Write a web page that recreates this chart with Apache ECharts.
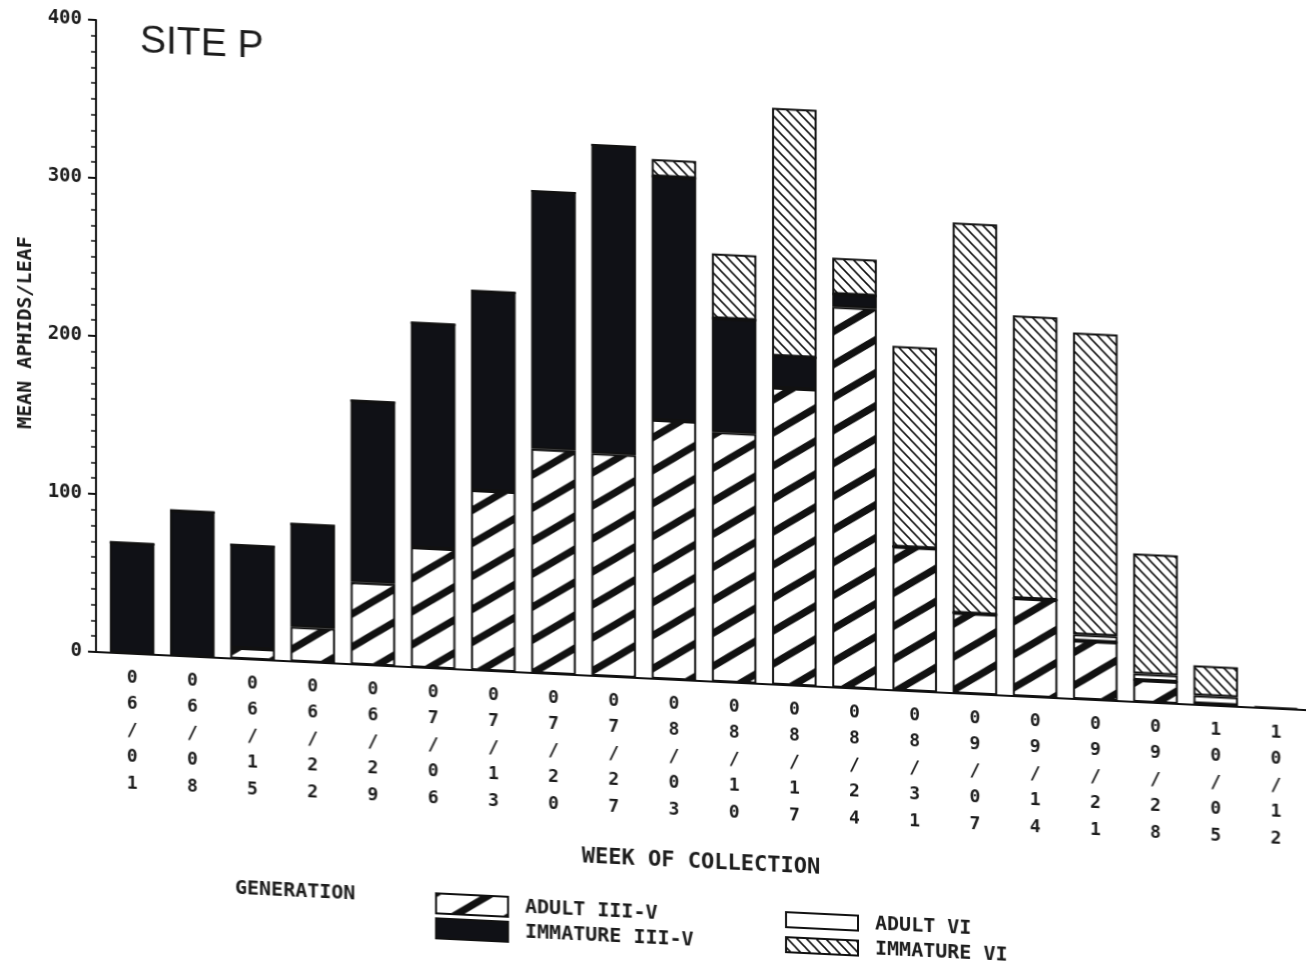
<!DOCTYPE html>
<html>
<head>
<meta charset="utf-8">
<title>Site P – mean aphids per leaf</title>
<script src="https://cdn.jsdelivr.net/npm/echarts@6/dist/echarts.min.js"></script>
<style>
  html, body { margin: 0; padding: 0; background: #fff; overflow: hidden; }
  /* the plotted sheet sits slightly sheared on the page */
  #chart { width: 1306px; height: 966px; transform: skewY(2.75deg); transform-origin: 96px 652px; }
</style>
</head>
<body>
<div id="chart"></div>
<script>
// Week of collection (month/day)
const weeks = ['06/01', '06/08', '06/15', '06/22', '06/29', '07/06', '07/13', '07/20', '07/27', '08/03',
               '08/10', '08/17', '08/24', '08/31', '09/07', '09/14', '09/21', '09/28', '10/05', '10/12'];

// Mean aphids per leaf, by generation (stacked bottom to top)
const adultIIItoV    = [0, 0, 7, 22, 52, 76, 114, 142, 141, 164, 158, 188, 241, 91, 51, 62, 37, 14, 1, 0];
const immatureIIItoV = [70, 92, 65, 65, 115, 142, 126, 163, 195, 154, 72, 20, 8, 0, 0, 0, 0, 0, 0, 0];
const adultVI        = [0, 0, 0, 0, 0, 0, 0, 0, 0, 0, 0, 0, 0, 0, 0, 0, 4, 4, 5, 0];
const immatureVI     = [0, 0, 0, 0, 0, 0, 0, 0, 0, 11, 41, 157, 23, 127, 247, 179, 191, 76, 19, 1];

// Value axis range
const yMin = 0, yMax = 400, yStep = 100;

const INK = '#111';
const TEXT = '#1c1c1c';
const MONO = "'DejaVu Sans Mono', 'Liberation Mono', monospace";

// Repeating hatch tile: 'up' draws / lines, 'down' draws \ lines
function hatch(w, h, lw, dir) {
  const c = document.createElement('canvas');
  c.width = w; c.height = h;
  const g = c.getContext('2d');
  g.fillStyle = '#fff';
  g.fillRect(0, 0, w, h);
  g.strokeStyle = INK;
  g.lineWidth = lw;
  for (let k = -2; k <= 2; k++) {
    g.beginPath();
    if (dir === 'up') { g.moveTo(-w, h + (k + 1) * h); g.lineTo(2 * w, (k - 1) * h); }
    else { g.moveTo(-w, (k - 1) * h); g.lineTo(2 * w, h + (k + 1) * h); }
    g.stroke();
  }
  return { image: c, repeat: 'repeat' };
}

const fills = {
  adultIIItoV: hatch(52, 33, 7, 'up'),
  immatureIIItoV: '#101116',
  adultVI: '#ffffff',
  immatureVI: hatch(10, 10, 1.6, 'down')
};

function stackBar(name, data, color) {
  return {
    name, type: 'bar', stack: 'generation', data,
    xAxisIndex: 1, yAxisIndex: 1,
    barWidth: '74%',
    itemStyle: { color, borderColor: INK, borderWidth: 2 },
    emphasis: { disabled: true }
  };
}

const legendText = { fontFamily: MONO, fontSize: 20, fontWeight: 'bold', color: TEXT, lineHeight: 21 };

const chart = echarts.init(document.getElementById('chart'), null, { renderer: 'canvas' });

chart.setOption({
  backgroundColor: '#fff',
  animation: false,
  title: {
    text: 'SITE P', left: 135, top: 15,
    textStyle: { fontFamily: "'Liberation Sans', Arial, sans-serif", fontSize: 39, fontWeight: 'normal', color: TEXT }
  },
  grid: [
    { left: 96, right: 0, top: 20, bottom: 314 },
    { left: 102, width: 1210, top: 20, bottom: 314 }
  ],
  xAxis: [
    {
      gridIndex: 0, type: 'category', data: weeks,
      axisLine: { lineStyle: { color: INK, width: 2 } },
      axisTick: { show: false }, axisLabel: { show: false },
      name: 'WEEK OF COLLECTION', nameLocation: 'middle', nameGap: 170,
      nameTextStyle: { fontFamily: MONO, fontSize: 22, fontWeight: 'bold', color: TEXT }
    },
    {
      gridIndex: 1, type: 'category', data: weeks,
      axisLine: { show: false }, axisTick: { show: false },
      axisLabel: {
        interval: 0, margin: 11,
        formatter: v => v.split('').join('\n'),
        fontFamily: MONO, fontSize: 18, fontWeight: 'bold', lineHeight: 26.5, color: TEXT
      }
    }
  ],
  yAxis: [
    {
      gridIndex: 0, type: 'value', min: yMin, max: yMax, interval: yStep,
      axisLine: { show: true, lineStyle: { color: INK, width: 2 } },
      axisTick: { show: true, length: 8, lineStyle: { color: INK, width: 2 } },
      minorTick: { show: true, splitNumber: 10, length: 5, lineStyle: { color: INK, width: 1.5 } },
      splitLine: { show: false },
      axisLabel: { margin: 14, fontFamily: MONO, fontSize: 19, fontWeight: 'bold', color: TEXT },
      name: 'MEAN APHIDS/LEAF', nameLocation: 'middle', nameGap: 60,
      nameTextStyle: { fontFamily: MONO, fontSize: 20, fontWeight: 'bold', color: TEXT }
    },
    {
      gridIndex: 1, type: 'value', min: yMin, max: yMax, interval: yStep, show: false,
      splitLine: { show: false }
    }
  ],
  legend: [
    {
      data: ['ADULT III-V', 'IMMATURE III-V'],
      orient: 'vertical', left: 430, top: 871,
      itemWidth: 72, itemHeight: 20, itemGap: 3,
      icon: 'rect', selectedMode: false,
      formatter: n => ' ' + n,
      textStyle: legendText
    },
    {
      data: ['ADULT VI', 'IMMATURE VI'],
      orient: 'vertical', left: 780, top: 871,
      itemWidth: 72, itemHeight: 15, itemGap: 4,
      icon: 'rect', selectedMode: false,
      formatter: n => ' ' + n,
      textStyle: legendText
    }
  ],
  graphic: [
    {
      type: 'text', left: 235, top: 872,
      style: { text: 'GENERATION', font: "bold 20px 'DejaVu Sans Mono', monospace", fill: TEXT }
    }
  ],
  series: [
    stackBar('ADULT III-V', adultIIItoV, fills.adultIIItoV),
    stackBar('IMMATURE III-V', immatureIIItoV, fills.immatureIIItoV),
    stackBar('ADULT VI', adultVI, fills.adultVI),
    stackBar('IMMATURE VI', immatureVI, fills.immatureVI)
  ]
});
</script>
</body>
</html>
